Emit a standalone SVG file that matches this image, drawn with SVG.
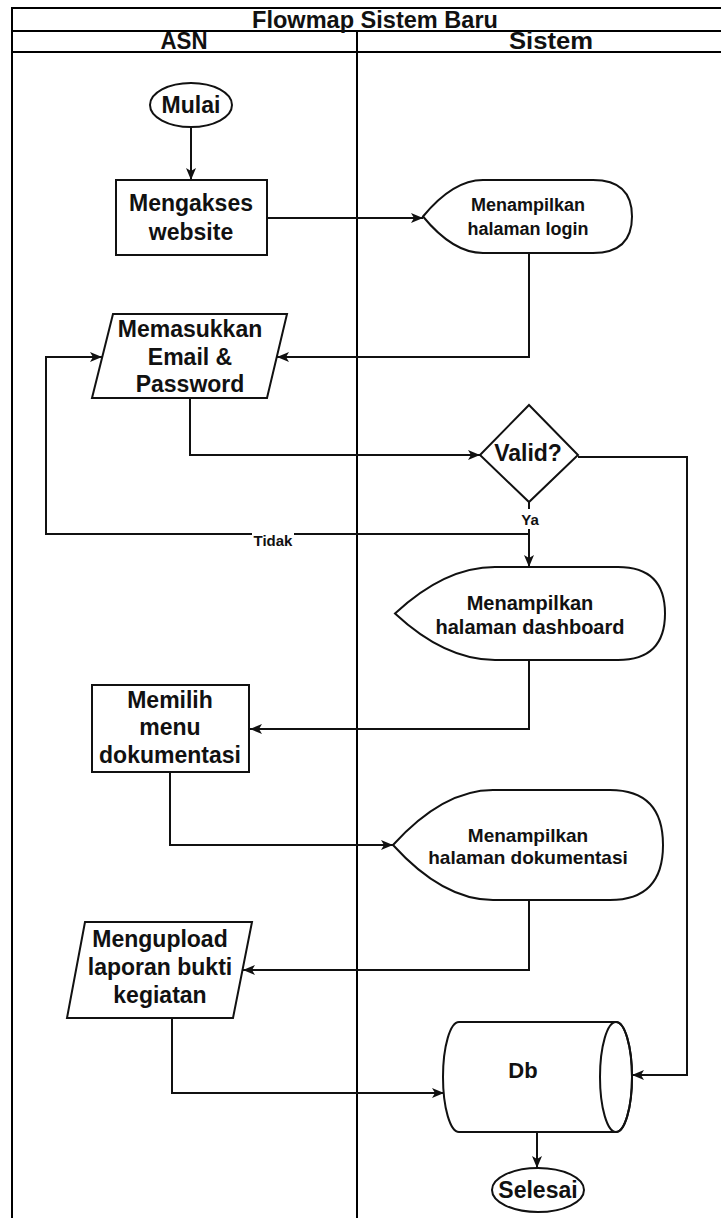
<svg xmlns="http://www.w3.org/2000/svg" width="721" height="1218" viewBox="0 0 721 1218">
<style>
  .pool { fill: #fff; stroke: #000; stroke-width: 2; }
  .ln { fill: none; stroke: #000; stroke-width: 2; }
  .shp { fill: #fff; stroke: #111; stroke-width: 2; }
  .edge { fill: none; stroke: #111; stroke-width: 2; }
  text { font-family: "Liberation Sans", Arial, sans-serif; font-weight: bold; fill: #111; text-anchor: middle; }
  .hd { font-size: 23px; }
  .big { font-size: 23px; }
  .lbl { font-size: 15px; }
</style>
<defs>
  <marker id="arr" viewBox="0 0 12 10" refX="12" refY="5" markerWidth="12" markerHeight="10" markerUnits="userSpaceOnUse" orient="auto">
    <path d="M0,0 L12,5 L0,10 L3,5 Z" fill="#111"/>
  </marker>
</defs>
<rect width="721" height="1218" fill="#fff"/>
<g id="pool">
  <rect class="pool" x="12" y="8" width="740" height="1230"/>
  <line class="ln" x1="12" y1="31" x2="752" y2="31"/>
  <line class="ln" x1="12" y1="52" x2="752" y2="52"/>
  <line class="ln" x1="357" y1="31" x2="357" y2="1238"/>
  <text class="hd" x="375" y="28" textLength="246" lengthAdjust="spacingAndGlyphs">Flowmap Sistem Baru</text>
  <text class="hd" x="184" y="49" textLength="47" lengthAdjust="spacingAndGlyphs">ASN</text>
  <text class="hd" x="551" y="49" textLength="84" lengthAdjust="spacingAndGlyphs">Sistem</text>
</g>
<g id="connectors">
  <path class="edge" d="M191,127 V180" marker-end="url(#arr)"/>
  <path class="edge" d="M267,218 H423" marker-end="url(#arr)"/>
  <path class="edge" d="M529,253 V357 H277" marker-end="url(#arr)"/>
  <path class="edge" d="M190,398 V455 H480" marker-end="url(#arr)"/>
  <path class="edge" d="M529,502 V567" marker-end="url(#arr)"/>
  <path class="edge" d="M529,502 V534 H46 V357 H102" marker-end="url(#arr)"/>
  <path class="edge" d="M529,660 V729 H250" marker-end="url(#arr)"/>
  <path class="edge" d="M170,772 V845 H393" marker-end="url(#arr)"/>
  <path class="edge" d="M529,900 V970 H243" marker-end="url(#arr)"/>
  <path class="edge" d="M172,1018 V1093 H444" marker-end="url(#arr)"/>
  <path class="edge" d="M578,457 H687 V1075 H632" marker-end="url(#arr)"/>
  <path class="edge" d="M537,1132 V1168" marker-end="url(#arr)"/>
  <rect x="519" y="509" width="22" height="20" fill="#fff"/>
  <text class="lbl" x="530" y="525">Ya</text>
  <rect x="252" y="531" width="42" height="18" fill="#fff"/>
  <text class="lbl" x="273" y="546">Tidak</text>
</g>
<g id="mulai">
  <ellipse class="shp" cx="191" cy="105" rx="41" ry="22"/>
  <text class="big" x="191" y="113">Mulai</text>
</g>
<g id="mengakses">
  <rect class="shp" x="116" y="180" width="151" height="75"/>
  <text class="big" x="191" y="211">Mengakses</text>
  <text class="big" x="191" y="240">website</text>
</g>
<g id="login">
  <path class="shp" d="M423,216.5 Q453,180 483,180 L593,180 Q632,180 632,216.5 Q632,253 593,253 L483,253 Q453,253 423,216.5 Z"/>
  <text style="font-size:18px" x="528" y="211">Menampilkan</text>
  <text style="font-size:18px" x="528" y="235">halaman login</text>
</g>
<g id="memasukkan">
  <path class="shp" d="M113,314 L287,314 L267,398 L92,398 Z"/>
  <text class="big" x="190" y="337">Memasukkan</text>
  <text class="big" x="190" y="365">Email &amp;</text>
  <text class="big" x="190" y="392">Password</text>
</g>
<g id="valid">
  <path class="shp" d="M529,405 L578,455 L529,502 L480,455 Z"/>
  <text class="big" x="528" y="461">Valid?</text>
</g>
<g id="dashboard">
  <path class="shp" d="M395,613.5 Q445,567 495,567 L618,567 Q665,567 665,613.5 Q665,660 618,660 L495,660 Q445,660 395,613.5 Z"/>
  <text style="font-size:20px" x="530" y="610">Menampilkan</text>
  <text style="font-size:20px" x="530" y="634">halaman dashboard</text>
</g>
<g id="memilih">
  <rect class="shp" x="92" y="685" width="157" height="87"/>
  <text class="big" x="170" y="708">Memilih</text>
  <text class="big" x="170" y="735">menu</text>
  <text class="big" x="170" y="763">dokumentasi</text>
</g>
<g id="dokumentasi">
  <path class="shp" d="M393,845 Q443,790 493,790 L610,790 Q663,790 663,845 Q663,900 610,900 L493,900 Q443,900 393,845 Z"/>
  <text style="font-size:19px" x="528" y="842">Menampilkan</text>
  <text style="font-size:19px" x="528" y="864">halaman dokumentasi</text>
</g>
<g id="mengupload">
  <path class="shp" d="M85,922 L252,922 L233,1018 L67,1018 Z"/>
  <text class="big" x="160" y="947">Mengupload</text>
  <text class="big" x="160" y="975">laporan bukti</text>
  <text class="big" x="160" y="1003">kegiatan</text>
</g>
<g id="db">
  <path class="shp" d="M459,1022 L616,1022 A16,55 0 0 1 616,1132 L459,1132 A16,55 0 0 1 459,1022 Z"/>
  <ellipse class="shp" cx="616" cy="1077" rx="16" ry="55" fill="none" style="fill:none"/>
  <text style="font-size:22px" x="523" y="1078">Db</text>
</g>
<g id="selesai">
  <ellipse class="shp" cx="538" cy="1190" rx="46" ry="22"/>
  <text class="big" x="538" y="1198">Selesai</text>
</g>
</svg>
